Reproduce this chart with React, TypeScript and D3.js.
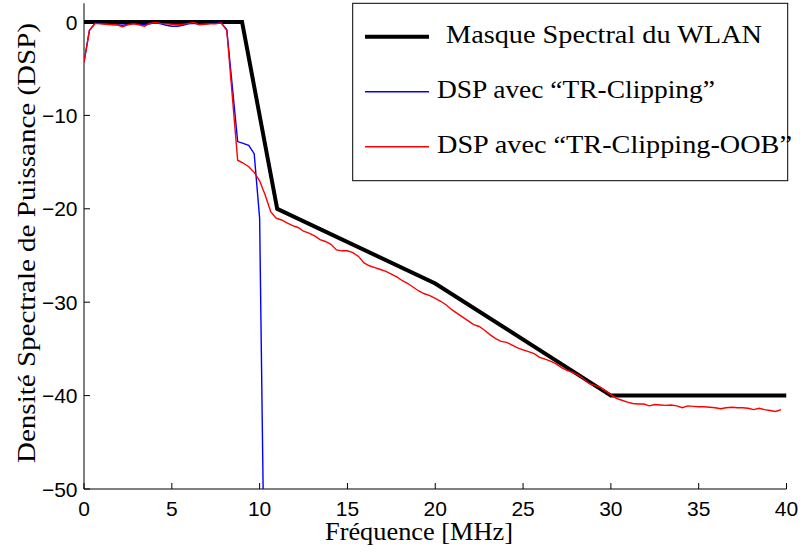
import React from "react";
import * as d3 from "d3";

const xTicks = [0, 5, 10, 15, 20, 25, 30, 35, 40];
const yTicks = [0, -10, -20, -30, -40, -50];

const maskX = [0, 9, 11, 20, 30, 40];
const maskY = [0, 0, -20, -28, -40, -40];

const blueSeries: [number, number][] = [
  [0, -4.3], [0.31, -0.9], [0.63, -0.15], [0.94, -0.15], [1.25, -0.2], [1.56, -0.25],
  [1.88, -0.3], [2.19, -0.35], [2.5, -0.25], [2.81, -0.15], [3.13, -0.25], [3.44, -0.3],
  [3.75, -0.2], [4.06, -0.1], [4.38, -0.2], [4.69, -0.35], [5.0, -0.45], [5.31, -0.45],
  [5.63, -0.35], [5.94, -0.2], [6.25, -0.15], [6.56, -0.25], [6.88, -0.2], [7.19, -0.15],
  [7.5, -0.15], [7.81, -0.1], [8.13, -0.8], [8.75, -12.8], [9.06, -13.0], [9.38, -13.2],
  [9.69, -14.1], [10.0, -21.0], [10.31, -66.0],
];

const redSeries: [number, number][] = [
  [0, -4.3], [0.31, -0.9], [0.63, -0.15], [0.94, -0.2], [1.25, -0.25], [1.56, -0.3],
  [1.88, -0.3], [2.19, -0.5], [2.5, -0.3], [2.81, -0.2], [3.13, -0.3], [3.44, -0.45],
  [3.75, -0.15], [4.06, -0.05], [4.38, -0.15], [4.69, -0.2], [5.0, -0.25], [5.31, -0.3],
  [5.63, -0.25], [5.94, -0.15], [6.25, -0.05], [6.56, -0.3], [6.88, -0.25], [7.19, -0.2],
  [7.5, -0.2], [7.81, -0.1], [8.13, -0.9], [8.75, -14.8], [9.06, -15.1], [9.38, -15.5],
  [9.69, -16.1], [10.0, -17.0], [10.31, -18.5], [10.63, -20.3], [10.94, -21.0], [11.25, -21.2],
  [11.56, -21.5], [11.88, -21.8], [12.19, -22.0], [12.5, -22.4], [12.81, -22.6], [13.13, -22.9],
  [13.44, -23.3], [13.75, -23.5], [14.06, -23.8], [14.38, -24.4], [14.69, -24.5], [15.0, -24.5],
  [15.31, -24.7], [15.63, -25.1], [15.94, -25.8], [16.25, -26.1], [16.56, -26.3], [16.88, -26.5],
  [17.19, -26.7], [17.5, -27.0], [17.81, -27.3], [18.13, -27.7], [18.44, -28.0], [18.75, -28.4],
  [19.06, -28.8], [19.38, -29.1], [19.69, -29.3], [20.0, -29.6], [20.31, -29.9], [20.63, -30.3],
  [20.94, -30.8], [21.25, -31.2], [21.56, -31.6], [21.88, -32.0], [22.19, -32.4], [22.5, -32.6],
  [22.81, -33.0], [23.13, -33.5], [23.44, -33.9], [23.75, -34.2], [24.06, -34.3], [24.38, -34.6],
  [24.69, -34.9], [25.0, -35.1], [25.31, -35.3], [25.63, -35.5], [25.94, -35.9], [26.25, -36.1],
  [26.56, -36.3], [26.88, -36.6], [27.19, -37.0], [27.5, -37.3], [27.81, -37.5], [28.13, -37.8],
  [28.44, -38.2], [28.75, -38.7], [29.06, -38.9], [29.38, -39.1], [29.69, -39.5], [30.0, -39.9],
  [30.31, -40.3], [30.63, -40.5], [30.94, -40.7], [31.25, -40.85], [31.56, -40.9], [31.88, -40.9],
  [32.19, -41.1], [32.5, -40.95], [32.81, -41.0], [33.13, -41.05], [33.44, -41.0], [33.75, -41.1],
  [34.06, -41.3], [34.38, -41.1], [34.69, -41.15], [35.0, -41.2], [35.31, -41.2], [35.63, -41.25],
  [35.94, -41.3], [36.25, -41.4], [36.56, -41.3], [36.88, -41.25], [37.19, -41.3], [37.5, -41.3],
  [37.81, -41.35], [38.13, -41.5], [38.44, -41.35], [38.75, -41.5], [39.06, -41.6], [39.38, -41.7],
  [39.69, -41.5],
];

const legendLabels = [
  "Masque Spectral du WLAN",
  "DSP avec \u201CTR-Clipping\u201D",
  "DSP avec \u201CTR-Clipping-OOB\u201D",
];
const legendColors = ["#000000", "#0000ff", "#ff0000"];
const legendWidths = [4, 1.4, 1.4];
const legendTextLen = [316, 278, 355];
const legendTextX = [446, 437, 437];

const xLabel = "Fr\u00E9quence [MHz]";
const yLabel = "Densit\u00E9 Spectrale de Puissance (DSP)";

const W = 800;
const H = 555;
const left = 84;
const right = 786.5;
const top = 3.3;
const bottom = 489;

export default function App() {
  const x = d3.scaleLinear().domain([0, 40]).range([left, right]);
  const y = d3.scaleLinear().domain([-50, 2]).range([bottom, top]);
  const line = d3
    .line<[number, number]>()
    .x((d) => x(d[0]))
    .y((d) => y(d[1]));
  const maskData: [number, number][] = maskX.map((v, i) => [v, maskY[i]]);
  const serif = "'Liberation Serif', 'Times New Roman', serif";
  const sans = "'Liberation Sans', Arial, sans-serif";
  const fmt = (v: number) => (v < 0 ? "\u2212" + Math.abs(v) : String(v));

  return (
    <svg
      width={W}
      height={H}
      style={{ position: "absolute", left: 0, top: 0, background: "#fff" }}
    >
      <defs>
        <clipPath id="plotClip">
          <rect x={left} y={top} width={right - left} height={bottom - top} />
        </clipPath>
      </defs>
      <rect x={0} y={0} width={W} height={H} fill="#fff" />

      {/* axes */}
      <line x1={left} x2={left} y1={top} y2={bottom} stroke="#000" strokeWidth={1} />
      <line x1={left} x2={right} y1={bottom} y2={bottom} stroke="#000" strokeWidth={1} />
      {xTicks.map((t) => (
        <g key={"xt" + t}>
          <line x1={x(t)} x2={x(t)} y1={bottom} y2={bottom - 6} stroke="#000" strokeWidth={1} />
          <text x={x(t)} y={516} textAnchor="middle" fontFamily={sans} fontSize={21} fill="#000">
            {fmt(t)}
          </text>
        </g>
      ))}
      {yTicks.map((t) => (
        <g key={"yt" + t}>
          <line x1={left} x2={left + 6} y1={y(t)} y2={y(t)} stroke="#000" strokeWidth={1} />
          <text
            x={77.5}
            y={y(t)}
            dy="0.36em"
            textAnchor="end"
            fontFamily={sans}
            fontSize={21}
            fill="#000"
          >
            {fmt(t)}
          </text>
        </g>
      ))}

      {/* series */}
      <g clipPath="url(#plotClip)">
        <path d={line(maskData) || ""} fill="none" stroke="#000" strokeWidth={4} strokeLinejoin="miter" />
        <path d={line(blueSeries) || ""} fill="none" stroke="#0000ff" strokeWidth={1.4} />
        <path d={line(redSeries) || ""} fill="none" stroke="#ff0000" strokeWidth={1.4} />
      </g>

      {/* axis labels */}
      <text
        x={419}
        y={540}
        textAnchor="middle"
        fontFamily={serif}
        fontSize={25}
        textLength={188}
        lengthAdjust="spacingAndGlyphs"
        fill="#000"
      >
        {xLabel}
      </text>
      <text
        transform={`translate(35,243) rotate(-90)`}
        textAnchor="middle"
        fontFamily={serif}
        fontSize={25}
        textLength={440}
        lengthAdjust="spacingAndGlyphs"
        fill="#000"
      >
        {yLabel}
      </text>

      {/* legend */}
      <rect x={352.7} y={3.3} width={435} height={177.4} fill="#fff" stroke="#000" strokeWidth={1} />
      {legendLabels.map((lab, i) => {
        const ly = 36.7 + i * 55;
        return (
          <g key={"lg" + i}>
            <line x1={365} x2={429} y1={ly} y2={ly} stroke={legendColors[i]} strokeWidth={legendWidths[i]} />
            <text
              x={legendTextX[i]}
              y={ly + 6.5}
              fontFamily={serif}
              fontSize={26}
              textLength={legendTextLen[i]}
              lengthAdjust="spacingAndGlyphs"
              fill="#000"
            >
              {lab}
            </text>
          </g>
        );
      })}
    </svg>
  );
}
